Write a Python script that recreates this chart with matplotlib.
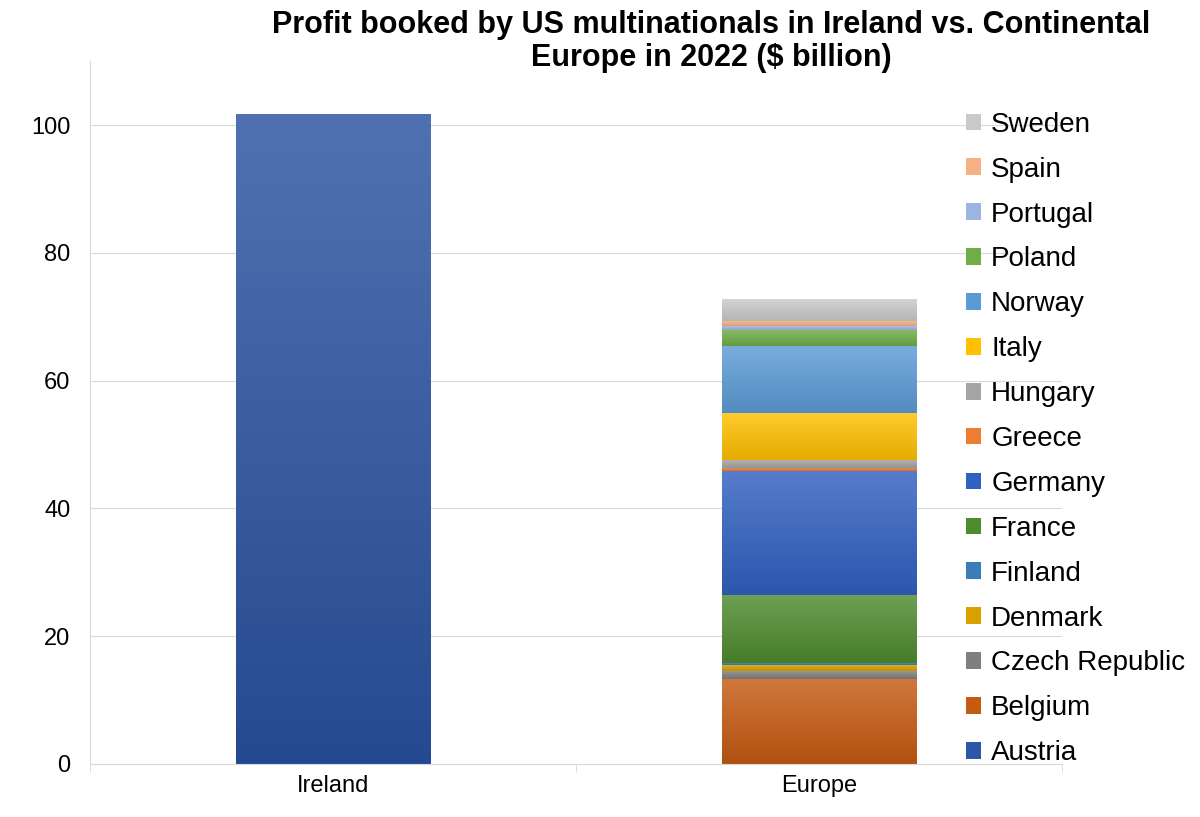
import matplotlib
matplotlib.use("Agg")
import matplotlib.pyplot as plt
import matplotlib.colors as mcolors
import numpy as np

plt.rcParams['font.family'] = ['Liberation Sans', 'DejaVu Sans']

categories = ["Ireland", "Europe"]
ireland_value = 101.8
countries = ["Austria", "Belgium", "Czech Republic", "Denmark", "Finland", "France",
             "Germany", "Greece", "Hungary", "Italy", "Norway", "Poland",
             "Portugal", "Spain", "Sweden"]
europe_values = [0.0, 13.35, 1.15, 0.95, 0.35, 10.6, 19.4, 0.5, 1.3, 7.4, 10.4,
                 2.6, 0.6, 0.8, 3.4]
colors = ["#2E56A6", "#C55A11", "#7F7F7F", "#D9A000", "#3A7DB8", "#4E8A2E",
          "#3060C0", "#ED7D31", "#A5A5A5", "#FFC000", "#5B9BD5", "#70AD47",
          "#9DB3E0", "#F4B183", "#C9C9C9"]

fig = plt.figure(figsize=(12, 8.17), dpi=100)
ax = fig.add_axes([0.075, 0.065, 0.81, 0.86])

def grad_fill(patch, color):
    x0, y0 = patch.get_x(), patch.get_y()
    w, h = patch.get_width(), patch.get_height()
    if h <= 0:
        return
    c = np.array(mcolors.to_rgb(color))
    light = c + (1 - c) * 0.18
    dark = c * 0.9
    t = np.linspace(0, 1, 64)[:, None]
    img = (dark[None, :] * (1 - t) + light[None, :] * t)[:, None, :]
    im = ax.imshow(img, extent=[x0, x0 + w, y0, y0 + h], origin='lower',
                   aspect='auto', zorder=patch.get_zorder(), interpolation='bilinear')
    im.set_clip_path(patch)

ax.set_xlim(-0.5, 1.5)
b = ax.bar([0], [ireland_value], width=0.4, color="#2A52A0", zorder=2)
grad_fill(b[0], "#2A52A0")

bottom = 0.0
handles = []
for name, v, c in zip(countries, europe_values, colors):
    bb = ax.bar([1], [v], bottom=bottom, width=0.4, color=c, label=name, zorder=2)
    grad_fill(bb[0], c)
    handles.append(bb)
    bottom += v

ax.set_xlim(-0.5, 1.5)
ax.set_ylim(0, 110)
ax.set_yticks([0, 20, 40, 60, 80, 100])
ax.set_xticks([0, 1])
ax.set_xticklabels(categories)
ax.tick_params(axis='both', labelsize=17, length=0)
ax.tick_params(axis='y', pad=14)
ax.tick_params(axis='x', pad=8)
ax.grid(axis='y', color='#D9D9D9', linewidth=0.8, zorder=0)
ax.set_axisbelow(True)
for s in ['top', 'right']:
    ax.spines[s].set_visible(False)
for s in ['left', 'bottom']:
    ax.spines[s].set_color('#D9D9D9')
ax.set_xticks([-0.5, 0.5, 1.5], minor=True)
ax.tick_params(axis='x', which='minor', length=6, color='#D9D9D9')

leg = ax.legend(handles[::-1], countries[::-1], loc='upper left',
                bbox_to_anchor=(0.89, 0.944), frameon=False, fontsize=20,
                handlelength=0.55, handleheight=0.55, handletextpad=0.35,
                labelspacing=0.68, borderaxespad=0)
leg.set_zorder(5)

fig.text(0.593, 0.988, "Profit booked by US multinationals in Ireland vs. Continental\nEurope in 2022 ($ billion)",
         ha='center', va='top', fontsize=22, fontweight='bold', linespacing=1.15)

fig.savefig("out.png", dpi=100)
